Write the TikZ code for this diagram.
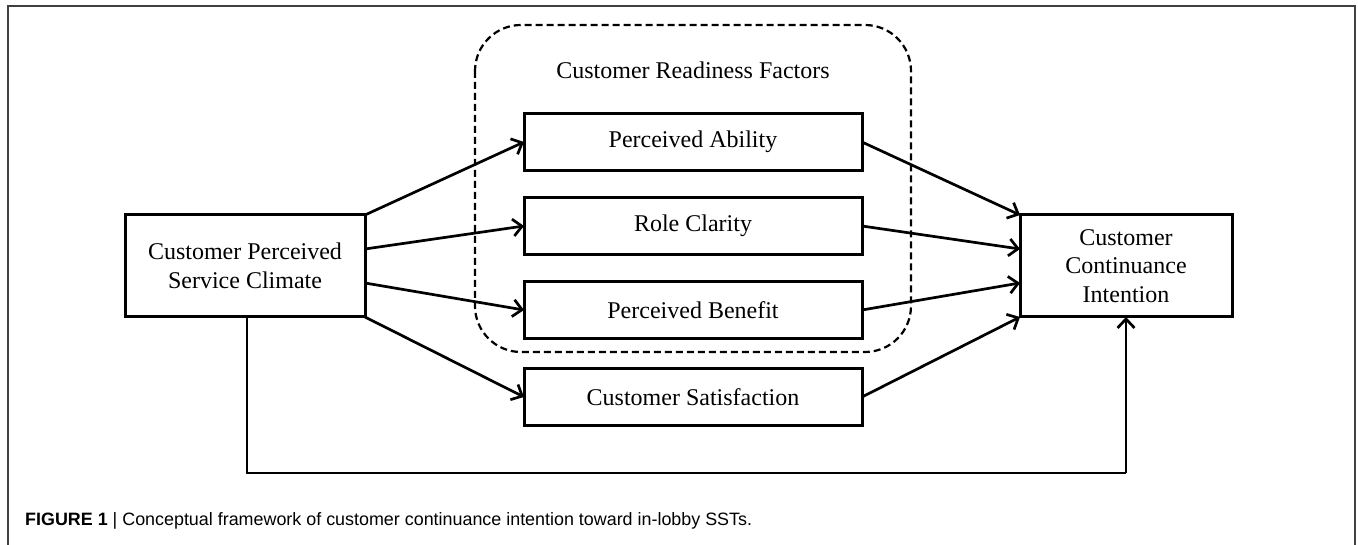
\documentclass[tikz,border=0pt]{standalone}
\usepackage{fontspec}
\setmainfont{Liberation Serif}
\newfontfamily\capfont{Liberation Sans}
\usetikzlibrary{arrows.meta,calc}

\begin{document}
\begin{tikzpicture}[x=1pt,y=-1pt,
  label text/.style={font=\fontsize{24}{28.5}\selectfont},
  box/.style={draw, line width=3pt, outer sep=0pt, inner sep=0pt,
    align=center, label text},
  link/.style={line width=2.7pt, -{Straight Barb[length=9pt,width=17pt]}},
  framing/.style={draw=black!75, line width=1.3pt}]
  \useasboundingbox (0,0) rectangle (1358,545);

  % outer frame of the figure panel
  \draw[framing] (8,560) -- (8,6) -- (1355,6) -- (1355,560);

  % grouping of readiness factors
  \draw[line width=2.2pt, dash pattern=on 7pt off 4pt, rounded corners=46pt]
    (475,25) rectangle (911,352);
  \node[label text] (grp) at (693,70) {Customer Readiness Factors};

  % constructs
  \node[box, minimum width=240pt, minimum height=102pt] (cpsc) at (245,266)
    {Customer Perceived\\Service Climate};
  \node[box, minimum width=338pt, minimum height=57pt] (pa) at (693,142) {Perceived Ability};
  \node[box, minimum width=338pt, minimum height=57pt] (rc) at (693,226) {Role Clarity};
  \node[box, minimum width=338pt, minimum height=57pt] (pb) at (693,310) {Perceived Benefit};
  \node[box, minimum width=338pt, minimum height=57pt] (cs) at (693,397) {Customer Satisfaction};
  \node[box, minimum width=212pt, minimum height=102pt] (cci) at (1126,266)
    {Customer\\Continuance\\Intention};

  % attachment points on the right side of the climate box
  \coordinate (s1) at (cpsc.north east);
  \coordinate (s2) at ($(cpsc.north east)!1/3!(cpsc.south east)$);
  \coordinate (s3) at ($(cpsc.north east)!2/3!(cpsc.south east)$);
  \coordinate (s4) at (cpsc.south east);
  % attachment points on the left side of the intention box
  \coordinate (t1) at (cci.north west);
  \coordinate (t2) at ($(cci.north west)!1/3!(cci.south west)$);
  \coordinate (t3) at ($(cci.north west)!2/3!(cci.south west)$);
  \coordinate (t4) at (cci.south west);

  \draw[link] (s1) -- (pa.west);
  \draw[link] (s2) -- (rc.west);
  \draw[link] (s3) -- (pb.west);
  \draw[link] (s4) -- (cs.west);

  \draw[link] (pa.east) -- (t1);
  \draw[link] (rc.east) -- (t2);
  \draw[link] (pb.east) -- (t3);
  \draw[link] (cs.east) -- (t4);

  % direct path along the bottom
  \coordinate (d1) at (247,473);
  \coordinate (d2) at (cci.south |- d1);
  \draw[line width=2.7pt] (cpsc.south -| d1) -- (d1) -- (d2);
  \draw[link] (d2) -- (cci.south);

  % caption
  \node[anchor=base west, inner sep=0pt, font=\capfont\fontsize{17.9}{21}\selectfont] (cap) at (25,525)
    {\textbf{FIGURE 1} \textbar{} Conceptual framework of customer continuance intention toward in-lobby SSTs.};
\end{tikzpicture}
\end{document}
